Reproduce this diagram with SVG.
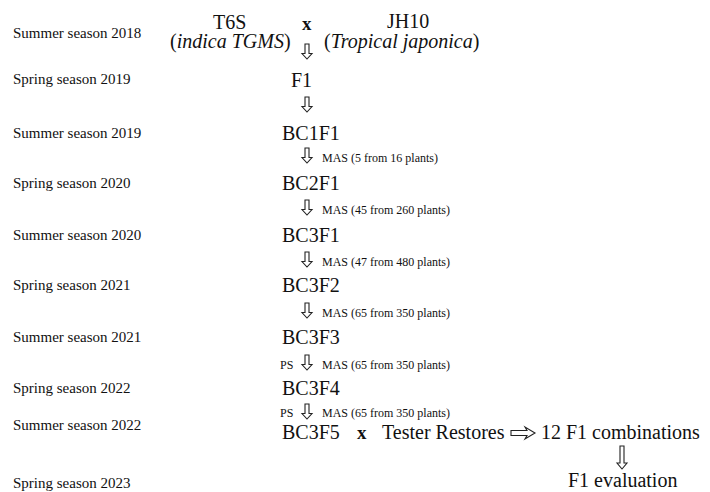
<svg xmlns="http://www.w3.org/2000/svg" xmlns:xlink="http://www.w3.org/1999/xlink" width="710" height="492" viewBox="0 0 710 492" font-family="'Liberation Serif', 'Times New Roman', serif">
<style>
text{font-family:'Liberation Serif','Times New Roman',serif;fill:#111}
.s{font-family:'Liberation Serif',serif;font-size:15px}
.b{font-family:'Liberation Serif',serif;font-size:20px}
.m{font-family:'Liberation Serif',serif;font-size:12px}
.x{font-family:'Liberation Serif',serif;font-size:19px;font-weight:bold}
.i{font-style:italic}
.arr{fill:#fff;stroke:#222;stroke-width:1.1}
</style>
<defs>
<path id="da" class="arr" d="M-2,0 H2 V9.5 H5 L0,15 L-5,9.5 H-2 Z"/>
<path id="dal" class="arr" d="M-2,0 H2 V17 H5 L0,23 L-5,17 H-2 Z"/>
</defs>
<rect width="710" height="492" fill="#fff"/>
<g id="seasons">
<text class="s" x="13" y="38">Summer season 2018</text>
<text class="s" x="13" y="84">Spring season 2019</text>
<text class="s" x="13" y="138">Summer season 2019</text>
<text class="s" x="13" y="188">Spring season 2020</text>
<text class="s" x="13" y="240">Summer season 2020</text>
<text class="s" x="13" y="290">Spring season 2021</text>
<text class="s" x="13" y="342">Summer season 2021</text>
<text class="s" x="13" y="393">Spring season 2022</text>
<text class="s" x="13" y="430">Summer season 2022</text>
<text class="s" x="13" y="488">Spring season 2023</text>
</g>
<g id="t6s"><text class="b" x="213" y="29">T6S</text><text class="b" x="170" y="48">(<tspan class="i">indica TGMS</tspan>)</text></g>
<g id="cross1"><text class="x" x="302" y="30">x</text></g>
<g id="jh10"><text class="b" x="387" y="28">JH10</text><text class="b" x="324" y="48">(<tspan class="i">Tropical japonica</tspan>)</text></g>
<g id="f1"><text class="b" x="291" y="87">F1</text></g>
<g id="bc1f1"><text class="b" x="282" y="140">BC1F1</text></g>
<g id="bc2f1"><text class="b" x="282" y="190">BC2F1</text></g>
<g id="bc3f1"><text class="b" x="282" y="242">BC3F1</text></g>
<g id="bc3f2"><text class="b" x="282" y="292">BC3F2</text></g>
<g id="bc3f3"><text class="b" x="282" y="344">BC3F3</text></g>
<g id="bc3f4"><text class="b" x="282" y="395">BC3F4</text></g>
<g id="bc3f5"><text class="b" x="282" y="439">BC3F5</text></g>
<g id="cross2"><text class="x" x="357" y="439">x</text></g>
<g id="tester"><text class="b" x="382" y="439">Tester Restores</text></g>
<g id="combos"><text class="b" x="541" y="439">12 F1 combinations</text></g>
<g id="eval"><text class="b" x="568" y="487">F1 evaluation</text></g>
<g id="connectors">
<use xlink:href="#da" href="#da" x="307" y="44"/>
<use xlink:href="#da" href="#da" x="307" y="97"/>
<use xlink:href="#da" href="#da" x="307" y="148"/>
<use xlink:href="#da" href="#da" x="307" y="200"/>
<use xlink:href="#da" href="#da" x="307" y="252"/>
<use xlink:href="#da" href="#da" x="307" y="303"/>
<use xlink:href="#da" href="#da" x="307" y="355"/>
<use xlink:href="#da" href="#da" x="307" y="404"/>
<use xlink:href="#dal" href="#dal" x="622" y="446"/>
<path class="arr" d="M511,430.5 H527 L525,427 L535,433 L525,439 L527,435.5 H511 Z"/>
<text class="m" x="322" y="162">MAS (5 from 16 plants)</text>
<text class="m" x="322" y="214">MAS (45 from 260 plants)</text>
<text class="m" x="322" y="266">MAS (47 from 480 plants)</text>
<text class="m" x="322" y="317">MAS (65 from 350 plants)</text>
<text class="m" x="280" y="369">PS</text>
<text class="m" x="322" y="369">MAS (65 from 350 plants)</text>
<text class="m" x="280" y="417">PS</text>
<text class="m" x="322" y="417">MAS (65 from 350 plants)</text>
</g>
</svg>
